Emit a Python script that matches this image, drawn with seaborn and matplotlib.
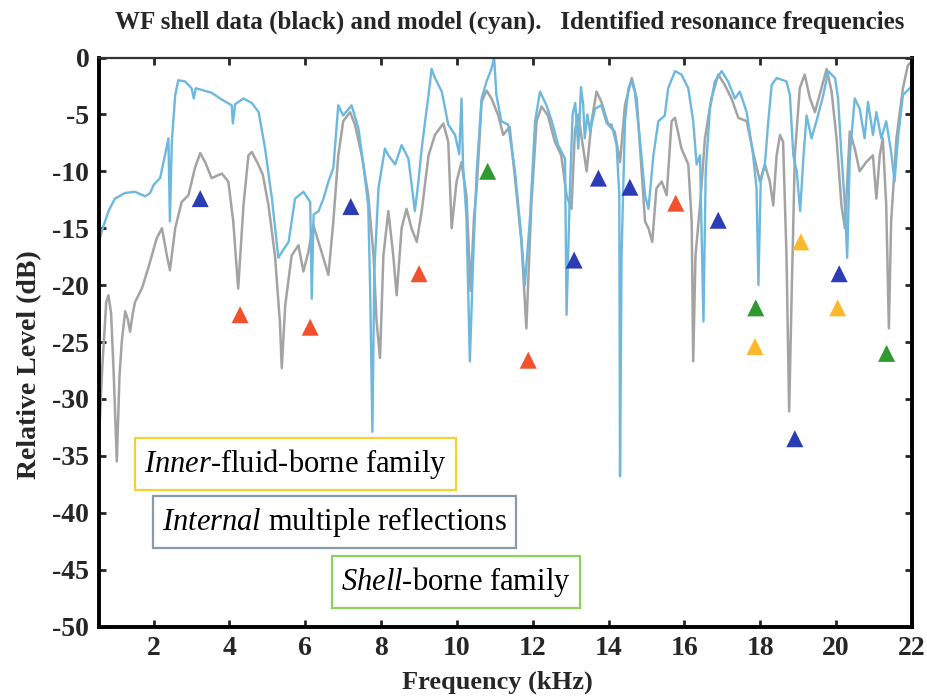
import matplotlib
matplotlib.use("Agg")
import matplotlib.pyplot as plt
import numpy as np
import pandas as pd
import seaborn as sns

# ---------------- data ----------------
model_freq = [0.56, 0.63, 0.81, 0.98, 1.25, 1.51, 1.78, 1.91, 2.0, 2.17, 2.30, 2.39, 2.43, 2.48,
              2.57, 2.65, 2.83, 3.0, 3.06, 3.11, 3.53, 3.80, 4.06, 4.09, 4.15, 4.37, 4.59, 4.77,
              4.94, 5.12, 5.29, 5.38, 5.56, 5.73, 5.95, 6.13, 6.17, 6.22, 6.35, 6.48, 6.61, 6.74,
              6.87, 7.0, 7.22, 7.40, 7.53, 7.66, 7.71, 7.77, 7.82, 7.93, 8.10, 8.19, 8.37, 8.54,
              8.72, 8.89, 8.98, 9.07, 9.16, 9.25, 9.33, 9.42, 9.60, 9.77, 9.95, 10.06, 10.12,
              10.16, 10.25, 10.34, 10.43, 10.52, 10.65, 10.78, 10.91, 10.98, 11.04, 11.17, 11.35,
              11.53, 11.70, 11.79, 11.92, 12.06, 12.19, 12.36, 12.50, 12.67, 12.85, 12.89, 12.98,
              13.05, 13.12, 13.20, 13.27, 13.33, 13.37, 13.44, 13.51, 13.64, 13.81, 13.95, 14.08,
              14.21, 14.28, 14.30, 14.34, 14.43, 14.52, 14.61, 14.69, 14.83, 14.96, 15.05, 15.18,
              15.31, 15.48, 15.57, 15.75, 15.92, 16.10, 16.23, 16.32, 16.41, 16.50, 16.56, 16.67,
              16.80, 16.98, 17.15, 17.33, 17.46, 17.64, 17.81, 17.90, 17.95, 18.01, 18.12, 18.21,
              18.30, 18.43, 18.69, 18.78, 18.87, 18.96, 19.05, 19.14, 19.22, 19.35, 19.48, 19.66,
              19.79, 19.97, 20.05, 20.14, 20.23, 20.29, 20.36, 20.49, 20.62, 20.75, 20.84, 20.97,
              21.06, 21.19, 21.32, 21.45, 21.54, 21.63, 21.76, 21.94, 22.0]
model_level = [-16.2, -15.3, -13.5, -12.4, -11.9, -11.8, -12.2, -11.9, -11.2, -10.6, -8.6, -7.1,
               -14.4, -7.4, -3.3, -2.0, -2.1, -2.7, -3.6, -2.7, -3.1, -3.7, -4.2, -5.8, -4.1,
               -3.6, -4.0, -4.8, -8.0, -12.4, -17.6, -17.1, -16.2, -12.4, -11.8, -12.7, -21.2,
               -13.8, -13.5, -12.4, -10.9, -9.7, -4.2, -5.1, -4.2, -6.2, -9.4, -13.0, -20.3,
               -32.9, -18.8, -11.5, -8.0, -8.6, -9.4, -7.7, -8.9, -13.5, -11.0, -8.0, -5.6, -3.3,
               -1.0, -1.8, -3.0, -5.9, -6.8, -8.5, -3.6, -9.5, -14.0, -26.7, -17.4, -10.0, -3.6,
               -2.1, -1.0, 0.0, -3.3, -5.6, -5.9, -10.0, -15.9, -20.0, -14.4, -5.6, -3.0, -4.2,
               -5.6, -7.7, -8.9, -22.6, -11.5, -5.0, -4.0, -8.0, -2.6, -4.2, -7.1, -5.0, -6.5,
               -4.5, -4.2, -5.8, -5.9, -7.7, -12.0, -36.8, -17.4, -5.6, -2.7, -2.1, -3.0, -7.4,
               -12.1, -13.3, -8.6, -5.6, -5.1, -2.7, -1.2, -1.5, -2.7, -5.6, -9.4, -8.6, -23.2,
               -10.0, -4.5, -2.1, -1.2, -2.1, -3.6, -3.0, -4.8, -8.6, -11.5, -20.0, -10.9, -9.4,
               -5.6, -2.4, -1.8, -2.1, -3.3, -8.6, -10.0, -13.5, -8.6, -5.1, -7.1, -5.6, -3.3,
               -1.2, -1.8, -3.6, -8.6, -13.0, -17.6, -8.6, -3.6, -4.5, -7.1, -3.9, -6.8, -4.8,
               -7.1, -5.6, -8.3, -10.9, -7.1, -3.3, -2.7, -2.5]

data_freq = [0.56, 0.65, 0.75, 0.81, 0.88, 0.95, 1.03, 1.10, 1.16, 1.25, 1.32, 1.38, 1.45, 1.51,
             1.69, 1.86, 2.08, 2.22, 2.35, 2.43, 2.57, 2.74, 2.92, 3.09, 3.23, 3.36, 3.53, 3.80,
             3.97, 4.10, 4.23, 4.37, 4.50, 4.59, 4.76, 4.88, 5.03, 5.20, 5.33, 5.38, 5.47, 5.64,
             5.82, 5.95, 6.08, 6.21, 6.43, 6.61, 6.74, 6.87, 7.0, 7.18, 7.31, 7.49, 7.66, 7.80,
             7.88, 7.97, 8.06, 8.19, 8.32, 8.41, 8.54, 8.67, 8.80, 8.94, 9.07, 9.25, 9.42, 9.64,
             9.77, 9.86, 9.99, 10.12, 10.25, 10.36, 10.45, 10.52, 10.65, 10.78, 10.91, 11.09,
             11.22, 11.39, 11.53, 11.70, 11.83, 11.96, 12.10, 12.23, 12.40, 12.58, 12.75, 12.89,
             13.02, 13.11, 13.20, 13.29, 13.42, 13.55, 13.68, 13.81, 13.99, 14.16, 14.30, 14.43,
             14.61, 14.74, 14.87, 14.96, 15.05, 15.15, 15.26, 15.40, 15.53, 15.66, 15.75, 15.92,
             16.10, 16.19, 16.23, 16.29, 16.41, 16.54, 16.71, 16.89, 17.06, 17.24, 17.42, 17.64,
             17.81, 17.99, 18.12, 18.25, 18.34, 18.43, 18.52, 18.60, 18.69, 18.76, 18.83, 18.91,
             19.04, 19.17, 19.31, 19.44, 19.61, 19.75, 19.88, 20.01, 20.14, 20.23, 20.36, 20.49,
             20.62, 20.79, 20.97, 21.06, 21.15, 21.23, 21.32, 21.39, 21.45, 21.59, 21.76, 21.89,
             22.0]
data_level = [-33.5, -27.0, -21.5, -20.9, -22.5, -28.0, -35.5, -28.0, -25.0, -22.3, -23.0, -24.1,
              -22.5, -21.5, -20.3, -18.5, -15.9, -15.0, -17.4, -18.7, -15.0, -12.7, -12.1, -9.7,
              -8.4, -9.2, -10.6, -10.2, -10.9, -14.4, -20.3, -13.0, -8.6, -8.3, -9.4, -10.3,
              -13.0, -17.4, -23.2, -27.3, -21.8, -17.4, -16.5, -18.8, -17.1, -14.7, -17.1, -19.1,
              -14.4, -8.6, -5.6, -4.8, -5.9, -8.6, -12.1, -17.4, -23.2, -26.4, -17.4, -13.5,
              -17.4, -20.9, -15.0, -13.3, -15.0, -16.2, -13.5, -8.6, -6.8, -5.8, -7.4, -15.0,
              -10.9, -9.2, -12.1, -20.5, -14.0, -11.5, -3.9, -2.9, -3.6, -5.1, -6.8, -6.1, -10.6,
              -16.2, -23.8, -13.0, -5.6, -4.3, -5.1, -7.4, -8.6, -12.1, -13.3, -6.5, -5.0, -7.1,
              -10.0, -5.6, -3.0, -3.9, -5.9, -6.5, -9.2, -4.2, -1.8, -3.6, -10.0, -14.4, -15.0,
              -16.2, -11.5, -10.9, -12.1, -5.6, -5.3, -8.0, -9.4, -14.4, -26.7, -17.4, -13.0,
              -7.1, -3.6, -1.5, -2.4, -3.6, -5.3, -5.6, -8.3, -10.9, -9.4, -10.9, -13.0, -8.6,
              -6.8, -7.4, -17.4, -31.1, -20.3, -8.6, -2.7, -1.5, -3.6, -4.8, -2.7, -1.0, -3.0,
              -7.1, -13.0, -15.0, -6.5, -8.0, -10.0, -9.2, -8.6, -12.4, -8.6, -7.1, -13.0, -23.8,
              -14.4, -7.1, -2.7, -0.7, -0.3]

blue_freq = [3.23, 7.20, 13.09, 13.73, 14.56, 16.89, 18.91, 20.08]
blue_level = [-12.4, -13.1, -17.8, -10.6, -11.4, -14.3, -33.5, -19.0]
red_freq = [4.28, 6.13, 9.00, 11.88, 15.77]
red_level = [-22.6, -23.7, -19.0, -26.6, -12.8]
green_freq = [10.81, 17.88, 21.33]
green_level = [-10.0, -22.0, -26.0]
yellow_freq = [17.86, 19.07, 20.04]
yellow_level = [-25.4, -16.2, -22.0]

x_ticks = [2, 4, 6, 8, 10, 12, 14, 16, 18, 20, 22]
y_ticks = [0, -5, -10, -15, -20, -25, -30, -35, -40, -45, -50]

title_text = "WF shell data (black) and model (cyan).   Identified resonance frequencies"
xlabel_text = "Frequency (kHz)"
ylabel_text = "Relative Level (dB)"
box_texts = [r"$\mathit{Inner}$-fluid-borne family",
             r"$\mathit{Internal}$ multiple reflections",
             r"$\mathit{Shell}$-borne family"]

# ---------------- styling ----------------
sns.set_style("ticks")
plt.rcParams["font.family"] = ["Liberation Serif", "DejaVu Serif"]
plt.rcParams["mathtext.fontset"] = "custom"
plt.rcParams["mathtext.it"] = "Liberation Serif:italic"
plt.rcParams["mathtext.rm"] = "Liberation Serif"
plt.rcParams["axes.unicode_minus"] = False

fig = plt.figure(figsize=(9.27, 6.98), dpi=100)
ax = fig.add_axes([99 / 927, 1 - 626.5 / 698, (912 - 99) / 927, (626.5 - 57.5) / 698])

df_data = pd.DataFrame({"f": data_freq, "L": data_level})
df_model = pd.DataFrame({"f": model_freq, "L": model_level})
sns.lineplot(data=df_data, x="f", y="L", ax=ax, sort=False, estimator=None,
             color="#a3a3a3", lw=1.8)
sns.lineplot(data=df_model, x="f", y="L", ax=ax, sort=False, estimator=None,
             color="#6cb8de", lw=1.7)

fam = (["blue"] * len(blue_freq) + ["red"] * len(red_freq) +
       ["green"] * len(green_freq) + ["yellow"] * len(yellow_freq))
df_mk = pd.DataFrame({"f": blue_freq + red_freq + green_freq + yellow_freq,
                      "L": blue_level + red_level + green_level + yellow_level,
                      "fam": fam})
palette = {"blue": "#2c3cb4", "red": "#f1512c", "green": "#2f9a31", "yellow": "#f9b92a"}
sns.scatterplot(data=df_mk, x="f", y="L", hue="fam", palette=palette, marker="^",
                s=150, linewidth=0, ax=ax, legend=False, zorder=5)

ax.set_xlim(0.56, 22)
ax.set_ylim(-50, 0)
ax.set_xticks(x_ticks)
ax.set_yticks(y_ticks)
ax.set_xticklabels([str(t) for t in x_ticks])
ax.set_yticklabels([str(t) for t in y_ticks])
ax.tick_params(direction="in", top=True, right=True, length=5, width=2,
               labelsize=20, pad=7)
for lab in ax.get_xticklabels() + ax.get_yticklabels():
    lab.set_fontweight("bold")
ax.set_xlabel("")
ax.set_ylabel("")
for side in ["left", "bottom", "right"]:
    ax.spines[side].set_linewidth(2.8)
    ax.spines[side].set_color("black")
ax.spines["top"].set_linewidth(1.6)
ax.spines["top"].set_color("#333333")

fig.text(510 / 927, 1 - 22 / 698, title_text, ha="center", va="center",
         fontsize=18, fontweight="bold")
fig.text(497 / 927, 1 - 682 / 698, xlabel_text, ha="center", va="center",
         fontsize=19, fontweight="bold")
fig.text(30 / 927, 1 - 365 / 698, ylabel_text, ha="center", va="center",
         rotation=90, fontsize=20, fontweight="bold")

box_pos = [(144, 464), (162, 522), (341, 582)]
box_cols = ["#f5d231", "#8b9aa8", "#8fd15a"]
for txt, (px, py), col in zip(box_texts, box_pos, box_cols):
    ax.text((px - 99) / 813, (626.5 - py) / 569, txt, transform=ax.transAxes,
            ha="left", va="center", fontsize=22, color="black", zorder=6,
            bbox=dict(boxstyle="square,pad=0.3", fc="white", ec=col, lw=1.6))

fig.savefig("out.png", dpi=100)
